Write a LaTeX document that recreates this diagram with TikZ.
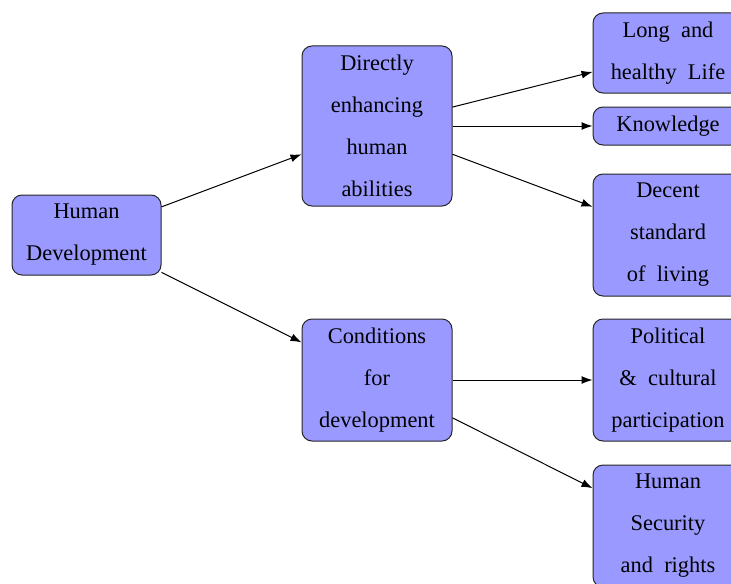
\documentclass[tikz,border=0pt]{standalone}
\usepackage{fontspec}
\setmainfont{Liberation Serif}
\usetikzlibrary{arrows.meta}
\definecolor{boxblue}{RGB}{153,153,255}
\begin{document}
\begin{tikzpicture}[x=0.5pt,y=-0.5pt,
  box/.style={draw=black!85, fill=boxblue, rounded corners=5pt, line width=0.5pt,
    minimum width=75pt, inner sep=0pt, align=center,
    font=\fontsize{11.2}{21}\selectfont},
  arr/.style={-{Latex[length=5.5pt,width=4pt]}, line width=0.5pt}]
\useasboundingbox (0,0) rectangle (731,583);
\clip (0,0) rectangle (731,583);
\node[box, minimum width=74.5pt, minimum height=40pt] (hd) at (86.5,235) {Human\\Development};
\node[box, minimum height=80pt] (de) at (377,126) {Directly\\enhancing\\human\\abilities};
\node[box, minimum height=61pt] (cd) at (377,380) {Conditions\\for\\development};
\node[box, minimum height=40pt] (lh) at (668,53) {Long\ \ and\\healthy\ \ Life};
\node[box, minimum height=19pt] (kn) at (668,126) {Knowledge};
\node[box, minimum height=61pt] (ds) at (668,235) {Decent\\standard\\of\ \ living};
\node[box, minimum height=61pt] (pc) at (668,380) {Political\\\&\ \ cultural\\participation};
\node[box, minimum height=61pt] (hs) at (668,526) {Human\\Security\\and\ \ rights};
\draw[arr] (hd) -- (de);
\draw[arr] (hd) -- (cd);
\draw[arr] (de) -- (lh);
\draw[arr] (de) -- (kn);
\draw[arr] (de) -- (ds);
\draw[arr] (cd) -- (pc);
\draw[arr] (cd) -- (hs);
\end{tikzpicture}
\end{document}
